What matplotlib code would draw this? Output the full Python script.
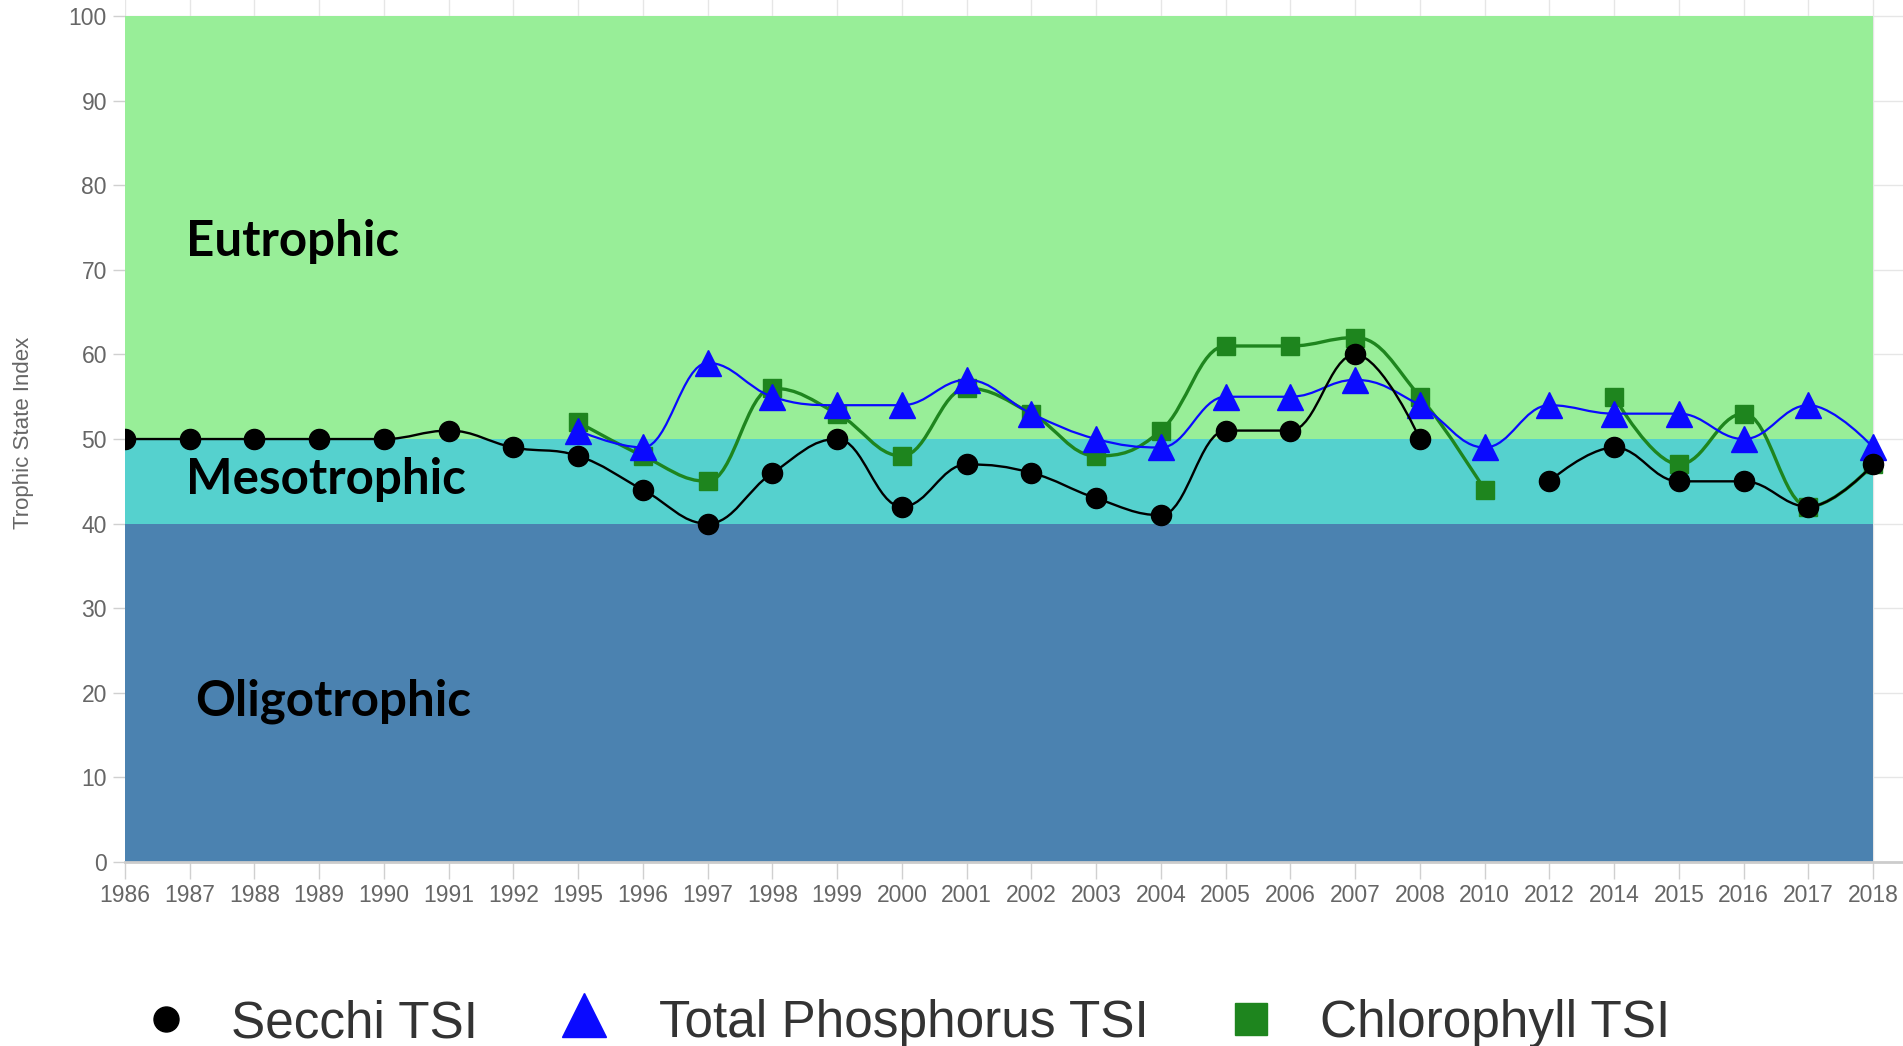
import numpy as np
import matplotlib
matplotlib.use('Agg')
import matplotlib.pyplot as plt
from matplotlib.path import Path
from matplotlib.patches import PathPatch
from matplotlib.lines import Line2D
from matplotlib import font_manager

years = ['1986', '1987', '1988', '1989', '1990', '1991', '1992', '1995', '1996', '1997',
         '1998', '1999', '2000', '2001', '2002', '2003', '2004', '2005', '2006', '2007',
         '2008', '2010', '2012', '2014', '2015', '2016', '2017', '2018']
nan = np.nan
secchi = [50, 50, 50, 50, 50, 51, 49, 48, 44, 40, 46, 50, 42, 47, 46, 43, 41, 51, 51, 60,
          50, nan, 45, 49, 45, 45, 42, 47]
phosphorus = [nan, nan, nan, nan, nan, nan, nan, 51, 49, 59, 55, 54, 54, 57, 53, 50, 49, 55, 55, 57,
              54, 49, 54, 53, 53, 50, 54, 49]
chlorophyll = [nan, nan, nan, nan, nan, nan, nan, 52, 48, 45, 56, 53, 48, 56, 53, 48, 51, 61, 61, 62,
               55, 44, nan, 55, 47, 53, 42, 47]
bands = [(0, 40, 'Oligotrophic', '#4b82b0'),
         (40, 50, 'Mesotrophic', '#55d1ce'),
         (50, 100, 'Eutrophic', '#98ee98')]

names = {f.name for f in font_manager.fontManager.ttflist}
narrow = 'Liberation Sans Narrow' if 'Liberation Sans Narrow' in names else 'Liberation Sans'
legend_size = 41 if narrow == 'Liberation Sans Narrow' else 37


def spline_path(xs, ys, smoothing=1.5):
    # highcharts style spline, broken at missing values
    segs, cur = [], []
    for x, y in zip(xs, ys):
        if np.isnan(y):
            if cur:
                segs.append(cur)
            cur = []
        else:
            cur.append((x, y))
    if cur:
        segs.append(cur)
    verts, codes = [], []
    for seg in segs:
        n = len(seg)
        left = [None] * n
        right = [None] * n
        d = smoothing + 1
        for i in range(1, n - 1):
            lx, ly = seg[i - 1]
            px, py = seg[i]
            nx, ny = seg[i + 1]
            lcx, lcy = (smoothing * px + lx) / d, (smoothing * py + ly) / d
            rcx, rcy = (smoothing * px + nx) / d, (smoothing * py + ny) / d
            if rcx != lcx:
                corr = ((rcy - lcy) * (rcx - px)) / (rcx - lcx) + py - rcy
                lcy += corr
                rcy += corr
            if lcy > ly and lcy > py:
                lcy = max(ly, py)
                rcy = 2 * py - lcy
            elif lcy < ly and lcy < py:
                lcy = min(ly, py)
                rcy = 2 * py - lcy
            if rcy > ny and rcy > py:
                rcy = max(ny, py)
                lcy = 2 * py - rcy
            elif rcy < ny and rcy < py:
                rcy = min(ny, py)
                lcy = 2 * py - rcy
            left[i] = (lcx, lcy)
            right[i] = (rcx, rcy)
        verts.append(seg[0])
        codes.append(Path.MOVETO)
        for i in range(1, n):
            verts += [right[i - 1] or seg[i - 1], left[i] or seg[i], seg[i]]
            codes += [Path.CURVE4] * 3
    return Path(verts, codes)


W, H = 1903, 1046
fig = plt.figure(figsize=(W / 100, H / 100), dpi=100)
ax = fig.add_axes([125 / W, 184 / H, 1 - 125 / W, 1 - 184 / H])
x = np.arange(len(years))

for lo, hi, name, col in bands:
    ax.fill_between([x[0], x[-1]], lo, hi, color=col, lw=0, zorder=1)

series = [(chlorophyll, '#1e851e', 's', 12.5, 2.4),
          (phosphorus, '#0a0aff', '^', 19, 1.6),
          (secchi, '#000000', 'o', 14.5, 1.7)]
z = 3
for vals, col, mk, ms, lw in series:
    vals = np.array(vals, dtype=float)
    ax.add_patch(PathPatch(spline_path(x, vals), fill=False, edgecolor=col, lw=lw, zorder=z))
    ax.plot(x, vals, linestyle='none', marker=mk, markersize=ms, color=col, mec=col, zorder=z + 0.5)
    z += 1

# zone labels
ax.text(0.94, 71.6, 'Eutrophic', family='Lato', fontweight='bold', fontsize=35.5, va='baseline', zorder=10)
ax.text(0.94, 43.5, 'Mesotrophic', family='Lato', fontweight='bold', fontsize=35.5, va='baseline', zorder=10)
ax.text(1.08, 17.3, 'Oligotrophic', family='Lato', fontweight='bold', fontsize=35.5, va='baseline', zorder=10)

ax.set_xlim(0, 27.46)
ax.set_ylim(0, 101.9)
ax.set_xticks(x)
ax.set_xticklabels(years, family=narrow, fontsize=16.5, color='#666666')
ax.set_yticks(range(0, 101, 10))
ax.set_yticklabels([str(v) for v in range(0, 101, 10)], family=narrow, fontsize=16.5, color='#666666')
ax.tick_params(axis='x', length=12, color='#d0d0d0', width=1, pad=4)
ax.tick_params(axis='y', length=9, color='#d0d0d0', width=1, pad=4)
ax.grid(True, color='#e6e6e6', lw=1)
ax.set_axisbelow(True)
for s in ['top', 'right', 'left']:
    ax.spines[s].set_visible(False)
ax.spines['bottom'].set_color('#cccccc')
ax.spines['bottom'].set_linewidth(2)
ax.spines['bottom'].set_zorder(5)

fig.text(24 / W, 1 - 433 / H, 'Trophic State Index', rotation=90, family='Liberation Sans',
         fontsize=16, color='#666666', ha='center', va='center')

# legend
legend_items = [('Secchi TSI', 'o', '#000000', 18, 166, 1019, 231),
                ('Total Phosphorus TSI', '^', '#0a0aff', 31, 584, 1015, 659),
                ('Chlorophyll TSI', 's', '#1e851e', 23, 1251, 1019, 1320)]
for label, mk, col, ms, mx, my, tx in legend_items:
    fig.add_artist(Line2D([mx / W], [1 - my / H], marker=mk, markersize=ms, color=col,
                          linestyle='none', transform=fig.transFigure))
    fig.text(tx / W, 1 - 1037 / H, label, family=narrow, fontsize=legend_size, color='#333333',
             ha='left', va='baseline')

fig.savefig('out.png', dpi=100)
